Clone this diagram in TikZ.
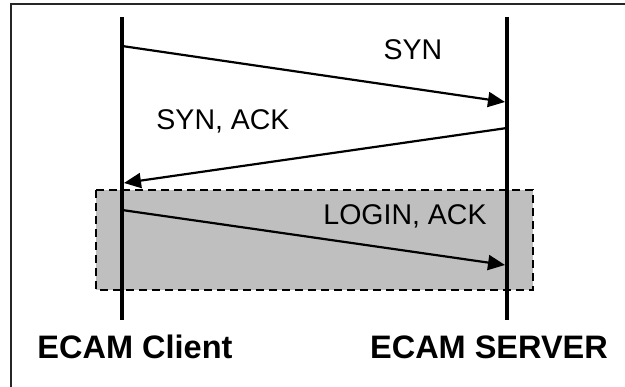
\documentclass[tikz,border=0pt]{standalone}
\usepackage{fontspec}
\setmainfont{Liberation Sans}
\usetikzlibrary{arrows.meta}
\tikzset{
  lifeline/.style={line width=4.5pt},
  msg/.style={line width=2.2pt, -{Triangle[length=17pt,width=15pt]}},
  msglabel/.style={font=\fontsize{28.5}{34}\selectfont, inner sep=0pt},
  hostlabel/.style={font=\bfseries\fontsize{32.5}{38}\selectfont, inner sep=0pt},
  loginbox/.style={fill=black!25, draw=black, line width=2pt, dash pattern=on 8pt off 5pt}
}
\begin{document}
\begin{tikzpicture}[x=1pt, y=-1pt]
  \useasboundingbox (0,0) rectangle (625,387);
  \fill[white] (0,0) rectangle (625,387);
  % outer frame (right and bottom fall outside the page)
  \draw[line width=2pt, black!85] (11,4) rectangle (640,400);

  % shaded login exchange
  \draw[loginbox] (96,190) rectangle (533,290);

  % lifelines
  \coordinate (ctop) at (122,17);
  \coordinate (cbot) at (122,320);
  \coordinate (stop) at (507,17);
  \coordinate (sbot) at (507,320);
  \draw[lifeline] (ctop) -- (cbot);
  \draw[lifeline] (stop) -- (sbot);

  % message end points
  \coordinate (c1) at (122,46);
  \coordinate (s1) at (505,102);
  \coordinate (s2) at (507,128);
  \coordinate (c2) at (124,183);
  \coordinate (c3) at (122,210);
  \coordinate (s3) at (505,265);

  \draw[msg] (c1) -- (s1);
  \draw[msg] (s2) -- (c2);
  \draw[msg] (c3) -- (s3);

  % labels
  \node[msglabel] (syn) at (413,50) {SYN};
  \node[msglabel] (synack) at (223,121) {SYN, ACK};
  \node[msglabel] (loginack) at (405,216) {LOGIN, ACK};
  \node[hostlabel] (client) at (135,347) {ECAM Client};
  \node[hostlabel] (server) at (489,347) {ECAM SERVER};
\end{tikzpicture}
\end{document}
